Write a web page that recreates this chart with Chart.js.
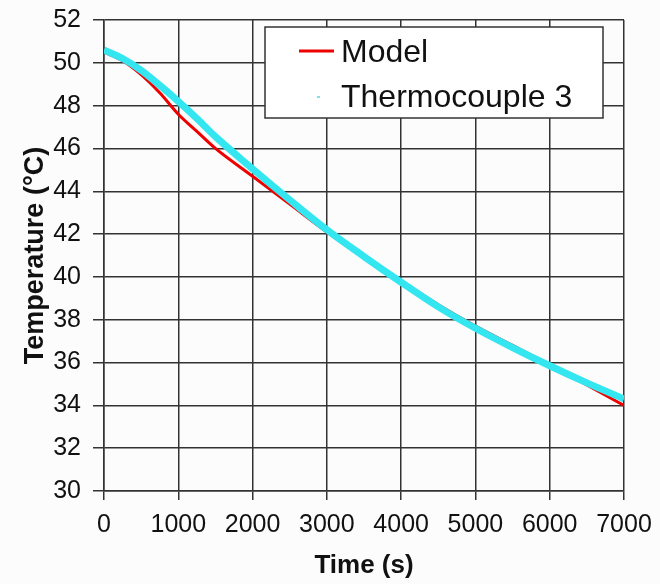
<!DOCTYPE html>
<html>
<head>
<meta charset="utf-8">
<script src="https://cdn.jsdelivr.net/npm/chart.js@4"></script>
<style>
  html, body { margin: 0; padding: 0; background: #fcfcfc; }
  #wrap { width: 660px; height: 584px; }
</style>
</head>
<body>
<div id="wrap"><canvas id="myChart" width="660" height="584"></canvas></div>
<script>
// values
const modelTime = [0, 250, 500, 750, 1000, 1250, 1500, 2000, 2500, 3000, 3500, 4000, 4500, 5000, 5500, 6000, 6500, 7000];
const modelTemp = [50.5, 50.1, 49.45, 48.6, 47.6, 46.8, 46.0, 44.7, 43.4, 42.1, 40.9, 39.8, 38.7, 37.7, 36.8, 35.9, 34.95, 34.0];

const tcTime = [0, 250, 500, 750, 1000, 1250, 1500, 2000, 2500, 3000, 3500, 4000, 4500, 5000, 5500, 6000, 6500, 7000];
const tcTemp = [50.6, 50.2, 49.65, 48.95, 48.2, 47.4, 46.55, 45.05, 43.6, 42.2, 40.95, 39.75, 38.6, 37.6, 36.7, 35.85, 35.05, 34.3];

const xTicks = [0, 1000, 2000, 3000, 4000, 5000, 6000, 7000];
const yTicks = [30, 32, 34, 36, 38, 40, 42, 44, 46, 48, 50, 52];

const seriesNames = ['Model', 'Thermocouple 3'];

const toPoints = (xs, ys) => xs.map((x, i) => ({ x: x, y: ys[i] }));

// legend box drawn inside the plot, like the original
const boxLegend = {
    id: 'boxLegend',
    afterDraw(chart) {
        const c = chart.ctx;
        c.save();
        c.fillStyle = '#ffffff';
        c.fillRect(265, 27, 338, 91);
        c.strokeStyle = '#333333';
        c.lineWidth = 1.5;
        c.strokeRect(265, 27, 338, 91);

        c.strokeStyle = '#ee0000';
        c.lineWidth = 3;
        c.beginPath();
        c.moveTo(299, 51);
        c.lineTo(334, 51);
        c.stroke();

        c.fillStyle = '#7fe0e8';
        c.fillRect(317, 96, 3, 2);

        c.fillStyle = '#111111';
        c.font = '32px "Liberation Sans", Arial, sans-serif';
        c.textBaseline = 'middle';
        c.fillText(seriesNames[0], 341, 53);
        c.fillText(seriesNames[1], 341, 98);
        c.restore();
    }
};

document.addEventListener("DOMContentLoaded", () => {
    const ctx = document.getElementById("myChart").getContext("2d");

    const gridColor = '#333333';
    const tickFont = { family: '"Liberation Sans", Arial, sans-serif', size: 25 };
    const xTitleFont = { family: '"Liberation Sans", Arial, sans-serif', size: 26, weight: 'bold' };
    const yTitleFont = { family: '"Liberation Sans", Arial, sans-serif', size: 27, weight: 'bold' };

    new Chart(ctx, {
        type: 'scatter',
        data: {
            datasets: [
                {
                    label: seriesNames[1],
                    data: toPoints(tcTime, tcTemp),
                    showLine: true,
                    borderColor: '#33e6f0',
                    backgroundColor: '#33e6f0',
                    borderWidth: 7,
                    pointRadius: 0,
                    cubicInterpolationMode: 'monotone',
                    order: 0
                },
                {
                    label: seriesNames[0],
                    data: toPoints(modelTime, modelTemp),
                    showLine: true,
                    borderColor: '#ee0000',
                    backgroundColor: '#ee0000',
                    borderWidth: 3,
                    pointRadius: 0,
                    cubicInterpolationMode: 'monotone',
                    order: 1
                }
            ]
        },
        options: {
            responsive: false,
            animation: false,
            layout: { padding: { top: 20, right: 36, left: 0, bottom: 0 } },
            plugins: {
                legend: { display: false },
                tooltip: { enabled: false }
            },
            scales: {
                x: {
                    type: 'linear',
                    min: 0,
                    max: 7000,
                    afterBuildTicks: (scale) => { scale.ticks = xTicks.map(v => ({ value: v })); },
                    afterFit: (scale) => { scale.height = 93; scale.paddingRight = 0; scale.paddingLeft = 0; },
                    grid: { color: gridColor, lineWidth: 1.5, tickLength: 9 },
                    border: { color: gridColor, width: 1.5 },
                    ticks: { color: '#111', font: tickFont, padding: 10, maxRotation: 0, callback: (v) => String(v) },
                    title: { display: true, text: 'Time (s)', color: '#111', font: xTitleFont, padding: { top: 0, bottom: 3 } }
                },
                y: {
                    min: 30,
                    max: 52,
                    afterBuildTicks: (scale) => { scale.ticks = yTicks.map(v => ({ value: v })); },
                    afterFit: (scale) => { scale.width = 104; scale.paddingTop = 0; scale.paddingBottom = 0; },
                    grid: { color: gridColor, lineWidth: 1.5, tickLength: 11 },
                    border: { color: gridColor, width: 1.5 },
                    ticks: { color: '#111', font: tickFont, padding: 12, callback: (v) => String(v) },
                    title: { display: true, text: 'Temperature (°C)', color: '#111', font: yTitleFont, padding: { top: 19, bottom: 0 } }
                }
            }
        },
        plugins: [boxLegend]
    });
});
</script>
</body>
</html>
